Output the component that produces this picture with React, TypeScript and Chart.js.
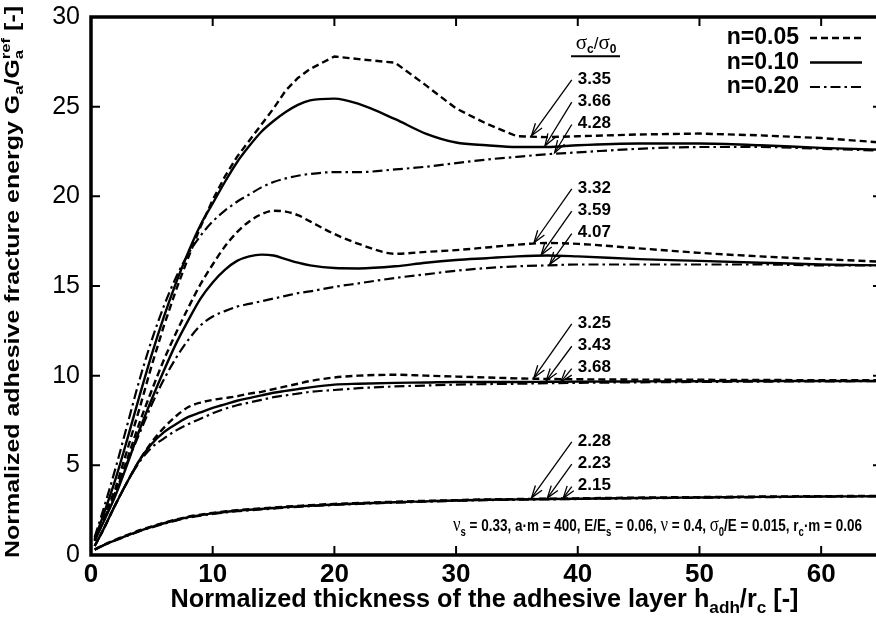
import React, { useEffect, useRef } from 'react';
import { Chart, registerables } from 'chart.js';

Chart.register(...registerables);

const SANS = "'Liberation Sans', Arial, Helvetica, sans-serif";
const SERIF = "'Liberation Serif', 'DejaVu Serif', serif";

// Normalized adhesive thickness h_adh / r_c shared by every curve
const thickness = [0.3, 1, 2, 3, 4, 5, 6, 7, 8, 9, 10, 11, 12, 13, 14, 15, 16, 17, 18, 20, 22, 25, 27.5, 30, 32.5, 35, 37.5, 40, 45, 50, 55, 60, 65];

// Upper family (σc/σ0 = 3.35 / 3.66 / 4.28)
const g1n005 = [0.8, 2.0, 3.7, 5.9, 8.2, 10.6, 12.8, 14.8, 16.6, 18.3, 19.8, 21.1, 22.2, 23.1, 24.0, 24.9, 25.9, 26.6, 27.1, 27.8, 27.65, 27.45, 26.2, 24.9, 24.05, 23.35, 23.3, 23.35, 23.45, 23.5, 23.4, 23.25, 23.0];
const g1n010 = [0.9, 2.2, 4.2, 6.5, 8.9, 11.2, 13.3, 15.2, 16.9, 18.4, 19.6, 20.8, 21.9, 22.8, 23.6, 24.2, 24.7, 25.1, 25.35, 25.45, 25.15, 24.3, 23.5, 23.0, 22.85, 22.75, 22.75, 22.85, 22.95, 22.95, 22.85, 22.7, 22.6];
const g1n020 = [1.0, 2.5, 4.8, 7.3, 9.8, 12.0, 13.9, 15.5, 16.8, 17.8, 18.6, 19.2, 19.7, 20.1, 20.5, 20.8, 21.0, 21.15, 21.25, 21.35, 21.35, 21.5, 21.65, 21.85, 22.05, 22.2, 22.35, 22.45, 22.65, 22.75, 22.75, 22.65, 22.55];

// Second family (σc/σ0 = 3.32 / 3.59 / 4.07)
const g2n005 = [0.8, 1.9, 3.5, 5.4, 7.4, 9.2, 10.9, 12.4, 13.8, 15.1, 16.2, 17.2, 18.0, 18.6, 19.0, 19.2, 19.15, 18.95, 18.6, 17.9, 17.35, 16.8, 16.9, 17.0, 17.15, 17.3, 17.4, 17.35, 17.1, 16.85, 16.65, 16.5, 16.35];
const g2n010 = [0.8, 1.8, 3.3, 5.1, 7.0, 8.7, 10.3, 11.8, 13.1, 14.3, 15.2, 15.9, 16.4, 16.65, 16.75, 16.7, 16.5, 16.3, 16.15, 16.0, 15.98, 16.1, 16.3, 16.45, 16.55, 16.65, 16.7, 16.65, 16.5, 16.4, 16.3, 16.2, 16.15];
const g2n020 = [0.9, 1.9, 3.5, 5.2, 6.8, 8.4, 9.8, 11.0, 12.0, 12.8, 13.3, 13.6, 13.85, 14.0, 14.15, 14.3, 14.45, 14.6, 14.7, 14.95, 15.15, 15.45, 15.65, 15.85, 16.0, 16.1, 16.15, 16.2, 16.2, 16.2, 16.2, 16.15, 16.15];

// Third family (σc/σ0 = 3.25 / 3.43 / 3.68)
const g3n005 = [0.5, 1.4, 2.8, 4.1, 5.3, 6.3, 7.1, 7.75, 8.25, 8.5, 8.65, 8.75, 8.85, 9.0, 9.1, 9.25, 9.4, 9.55, 9.7, 9.9, 10.0, 10.05, 10.0, 9.95, 9.9, 9.85, 9.82, 9.8, 9.78, 9.77, 9.76, 9.75, 9.75];
const g3n010 = [0.5, 1.4, 2.8, 4.1, 5.3, 6.2, 6.85, 7.3, 7.7, 7.95, 8.2, 8.4, 8.6, 8.75, 8.9, 9.05, 9.15, 9.25, 9.35, 9.5, 9.55, 9.6, 9.62, 9.65, 9.65, 9.65, 9.66, 9.67, 9.68, 9.69, 9.7, 9.7, 9.7];
const g3n020 = [0.5, 1.4, 2.8, 4.1, 5.2, 6.0, 6.5, 6.95, 7.3, 7.6, 7.9, 8.15, 8.35, 8.5, 8.65, 8.8, 8.9, 9.0, 9.1, 9.2, 9.3, 9.4, 9.45, 9.5, 9.53, 9.55, 9.58, 9.6, 9.63, 9.65, 9.67, 9.68, 9.7];

// Lowest family (σc/σ0 = 2.28 / 2.23 / 2.15)
const g4n005 = [0.3, 0.55, 0.85, 1.12, 1.38, 1.6, 1.8, 1.98, 2.14, 2.25, 2.35, 2.43, 2.5, 2.55, 2.6, 2.65, 2.7, 2.74, 2.78, 2.85, 2.9, 2.97, 3.02, 3.06, 3.1, 3.12, 3.14, 3.16, 3.2, 3.23, 3.26, 3.28, 3.3];
const g4n010 = [0.3, 0.54, 0.83, 1.1, 1.35, 1.57, 1.77, 1.95, 2.11, 2.22, 2.32, 2.4, 2.47, 2.52, 2.57, 2.62, 2.67, 2.71, 2.75, 2.82, 2.87, 2.94, 2.99, 3.04, 3.08, 3.1, 3.12, 3.14, 3.18, 3.21, 3.24, 3.26, 3.28];
const g4n020 = [0.3, 0.53, 0.81, 1.07, 1.32, 1.54, 1.74, 1.92, 2.08, 2.19, 2.29, 2.37, 2.44, 2.49, 2.54, 2.59, 2.64, 2.68, 2.72, 2.79, 2.85, 2.92, 2.97, 3.02, 3.06, 3.08, 3.1, 3.12, 3.16, 3.19, 3.22, 3.25, 3.27];

// Hardening exponents and their legend entries
const hardening = ['n=0.05', 'n=0.10', 'n=0.20'];

// Strength ratio σc/σ0 of each curve, per family, in the order n = 0.05, 0.10, 0.20
const ratioTop = ['3.35', '3.66', '4.28'];
const ratioSecond = ['3.32', '3.59', '4.07'];
const ratioThird = ['3.25', '3.43', '3.68'];
const ratioBottom = ['2.28', '2.23', '2.15'];

// Axis ranges
const xRange = [0, 65];
const yRange = [0, 30];

const CANVAS_W = 890;
const CANVAS_H = 622;
const AREA = { left: 91, top: 17, right: 882, bottom: 555 };

const lineStyles = [
  { dash: [7, 4], width: 2.4 },
  { dash: [] as number[], width: 2.4 },
  { dash: [10, 4, 2.5, 4], width: 2.2 },
];

const families = [
  { series: [g1n005, g1n010, g1n020], ratios: ratioTop, labelY: 26.55, tipX: [36.2, 37.3, 38.1] },
  { series: [g2n005, g2n010, g2n020], ratios: ratioSecond, labelY: 20.47, tipX: [36.4, 37.0, 37.7] },
  { series: [g3n005, g3n010, g3n020], ratios: ratioThird, labelY: 12.94, tipX: [36.4, 37.4, 38.6] },
  { series: [g4n005, g4n010, g4n020], ratios: ratioBottom, labelY: 6.36, tipX: [36.2, 37.5, 38.8] },
];

function valueAt(xs: number[], ys: number[], x: number) {
  for (let i = 1; i < xs.length; i++) {
    if (x <= xs[i]) {
      const t = (x - xs[i - 1]) / (xs[i] - xs[i - 1]);
      return ys[i - 1] + t * (ys[i] - ys[i - 1]);
    }
  }
  return ys[ys.length - 1];
}

type Seg = { t: string; f: string; dy?: number; adv?: boolean };

function segWidth(ctx: CanvasRenderingContext2D, segs: Seg[]) {
  let w = 0;
  for (const s of segs) {
    ctx.font = s.f;
    if (s.adv !== false) w += ctx.measureText(s.t).width;
  }
  return w;
}

function drawSegs(ctx: CanvasRenderingContext2D, segs: Seg[], x: number, y: number) {
  let cx = x;
  for (const s of segs) {
    ctx.font = s.f;
    ctx.fillText(s.t, cx, y + (s.dy || 0));
    if (s.adv !== false) cx += ctx.measureText(s.t).width;
  }
}

function drawArrow(ctx: CanvasRenderingContext2D, x0: number, y0: number, x1: number, y1: number) {
  ctx.beginPath();
  ctx.moveTo(x0, y0);
  ctx.lineTo(x1, y1);
  ctx.stroke();
  const a = Math.atan2(y1 - y0, x1 - x0);
  const L = 13;
  const spread = 0.32;
  ctx.beginPath();
  ctx.moveTo(x1 - L * Math.cos(a - spread), y1 - L * Math.sin(a - spread));
  ctx.lineTo(x1, y1);
  ctx.lineTo(x1 - L * Math.cos(a + spread), y1 - L * Math.sin(a + spread));
  ctx.stroke();
}

const B = (s: number) => `bold ${s}px ${SANS}`;
const G = (s: number) => `${s}px ${SERIF}`;

const decorations = {
  id: 'decorations',
  afterDraw(chart: any) {
    const ctx: CanvasRenderingContext2D = chart.ctx;
    const { left, right, top, bottom } = chart.chartArea;
    const xs = chart.scales.x;
    const ys = chart.scales.y;
    ctx.save();
    ctx.fillStyle = '#000';
    ctx.strokeStyle = '#000';

    // σc/σ0 header with underline
    const hx = xs.getPixelForValue(41.5);
    const hy = ys.getPixelForValue(28.2);
    const header: Seg[] = [
      { t: 'σ', f: G(21) },
      { t: 'c', f: B(12), dy: 4 },
      { t: '/', f: `${17}px ${SANS}` },
      { t: 'σ', f: G(21) },
      { t: '0', f: B(12), dy: 4 },
    ];
    ctx.textBaseline = 'alphabetic';
    drawSegs(ctx, header, hx - segWidth(ctx, header) / 2, hy);
    ctx.lineWidth = 2;
    ctx.beginPath();
    ctx.moveTo(hx - 25, hy + 7);
    ctx.lineTo(hx + 24, hy + 7);
    ctx.stroke();

    // Ratio labels with arrows pointing to their curves
    const labelX = xs.getPixelForValue(40.0);
    ctx.lineWidth = 1.3;
    for (const fam of families) {
      const y0 = ys.getPixelForValue(fam.labelY);
      fam.ratios.forEach((r, i) => {
        const ly = y0 + i * 22.3;
        ctx.font = B(17);
        ctx.textBaseline = 'middle';
        ctx.textAlign = 'left';
        ctx.fillText(r, labelX, ly);
        const tx = fam.tipX[i];
        const px = xs.getPixelForValue(tx);
        const py = ys.getPixelForValue(valueAt(thickness, fam.series[i], tx));
        drawArrow(ctx, labelX - 6, ly + 1, px, py - 1);
      });
    }

    // Legend
    ctx.textAlign = 'right';
    ctx.textBaseline = 'middle';
    hardening.forEach((name, i) => {
      const ly = top + 21 + i * 24.5;
      ctx.font = B(23);
      ctx.fillText(name, right - 83, ly);
      ctx.save();
      ctx.lineWidth = lineStyles[i].width;
      ctx.setLineDash(lineStyles[i].dash);
      ctx.beginPath();
      ctx.moveTo(right - 72, ly);
      ctx.lineTo(right - 20, ly);
      ctx.stroke();
      ctx.restore();
    });

    // Model parameters
    const params: Seg[] = [
      { t: 'ν', f: G(21) },
      { t: 's', f: B(12), dy: 5 },
      { t: ' = 0.33, a·m = 400, E/E', f: B(17) },
      { t: 's', f: B(12), dy: 5 },
      { t: ' = 0.06, ', f: B(17) },
      { t: 'ν', f: G(21) },
      { t: ' = 0.4, ', f: B(17) },
      { t: 'σ', f: G(21) },
      { t: '0', f: B(12), dy: 5 },
      { t: '/E = 0.015, r', f: B(17) },
      { t: 'c', f: B(12), dy: 5 },
      { t: '·m = 0.06', f: B(17) },
    ];
    ctx.textAlign = 'left';
    ctx.textBaseline = 'alphabetic';
    const pw = segWidth(ctx, params);
    ctx.save();
    ctx.translate(right - 20, bottom - 24);
    ctx.scale(409 / pw, 1);
    drawSegs(ctx, params, -pw, 0);
    ctx.restore();

    // Frame and inward ticks on all four sides
    ctx.setLineDash([]);
    ctx.lineWidth = 3.5;
    ctx.strokeRect(left, top, right - left, bottom - top);
    ctx.lineWidth = 2;
    ctx.beginPath();
    for (const t of xs.ticks) {
      const p = xs.getPixelForValue(t.value);
      ctx.moveTo(p, bottom);
      ctx.lineTo(p, bottom - 9);
      ctx.moveTo(p, top);
      ctx.lineTo(p, top + 9);
    }
    for (const t of ys.ticks) {
      const p = ys.getPixelForValue(t.value);
      ctx.moveTo(left, p);
      ctx.lineTo(left + 9, p);
      ctx.moveTo(right, p);
      ctx.lineTo(right - 9, p);
    }
    ctx.stroke();

    // Axis titles
    const xTitle: Seg[] = [
      { t: 'Normalized thickness of the adhesive layer h', f: B(25) },
      { t: 'adh', f: B(17), dy: 6 },
      { t: '/r', f: B(25) },
      { t: 'c', f: B(17), dy: 6 },
      { t: ' [-]', f: B(25) },
    ];
    const xw = segWidth(ctx, xTitle);
    ctx.save();
    ctx.translate((left + right) / 2 - 2, 607);
    ctx.scale(628 / xw, 1);
    drawSegs(ctx, xTitle, -xw / 2, 0);
    ctx.restore();

    const yTitle: Seg[] = [
      { t: 'Normalized adhesive fracture energy G', f: B(24) },
      { t: 'a', f: B(16), dy: 5 },
      { t: '/G', f: B(24) },
      { t: 'a', f: B(16), dy: 5, adv: false },
      { t: 'ref', f: B(16), dy: -11 },
      { t: ' [-]', f: B(24) },
    ];
    const yw = segWidth(ctx, yTitle);
    ctx.save();
    ctx.translate(19, 282);
    ctx.rotate(-Math.PI / 2);
    ctx.scale(552 / yw, 0.85);
    drawSegs(ctx, yTitle, -yw / 2, 0);
    ctx.restore();

    ctx.restore();
  },
};

export default function App() {
  const ref = useRef<HTMLCanvasElement>(null);

  useEffect(() => {
    const canvas = ref.current;
    if (!canvas) return;

    const datasets: any[] = [];
    families.forEach((fam) => {
      fam.series.forEach((ys, i) => {
        const isTopDashed = fam.series[i] === g1n005;
        datasets.push({
          label: hardening[i],
          data: thickness.map((x, k) => ({ x, y: ys[k] })),
          borderColor: '#000',
          borderWidth: lineStyles[i].width,
          borderDash: lineStyles[i].dash,
          pointRadius: 0,
          fill: false,
          cubicInterpolationMode: isTopDashed ? 'default' : 'monotone',
          tension: isTopDashed ? 0 : 0.4,
        });
      });
    });

    const zeroPad = (s: any) => {
      s.paddingTop = 0;
      s.paddingBottom = 0;
      s.paddingLeft = 0;
      s.paddingRight = 0;
    };

    const chart = new Chart(canvas, {
      type: 'line',
      data: { datasets },
      options: {
        responsive: false,
        animation: false,
        devicePixelRatio: 1,
        layout: { padding: { left: 0, top: AREA.top, right: CANVAS_W - AREA.right, bottom: 0 } },
        plugins: { legend: { display: false }, tooltip: { enabled: false } },
        scales: {
          x: {
            type: 'linear',
            min: xRange[0],
            max: xRange[1],
            grid: { display: false, drawTicks: false },
            border: { display: false },
            ticks: {
              stepSize: 10,
              includeBounds: false,
              autoSkip: false,
              maxRotation: 0,
              color: '#000',
              padding: 4,
              font: { family: SANS, size: 26, weight: 'bold' },
            },
            afterFit: (s: any) => {
              s.height = CANVAS_H - AREA.bottom;
              zeroPad(s);
            },
          },
          y: {
            type: 'linear',
            min: yRange[0],
            max: yRange[1],
            grid: { display: false, drawTicks: false },
            border: { display: false },
            ticks: {
              stepSize: 5,
              color: '#000',
              padding: 11,
              font: { family: SANS, size: 25 },
            },
            afterFit: (s: any) => {
              s.width = AREA.left;
              zeroPad(s);
            },
          },
        },
      },
      plugins: [decorations],
    } as any);

    return () => chart.destroy();
  }, []);

  return (
    <div style={{ position: 'fixed', left: 0, top: 0, width: 876, height: 622, overflow: 'hidden', background: '#fff' }}>
      <canvas ref={ref} width={CANVAS_W} height={CANVAS_H} style={{ display: 'block', width: CANVAS_W, height: CANVAS_H }} />
    </div>
  );
}
